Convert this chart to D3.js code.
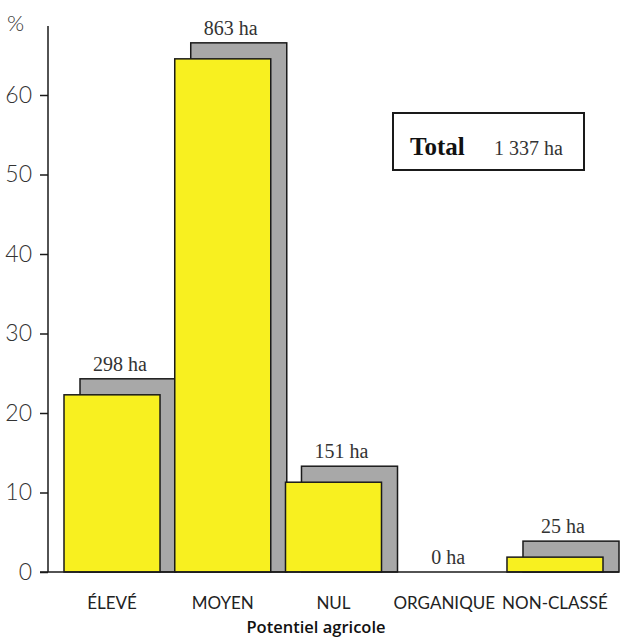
<!DOCTYPE html>
<html>
<head>
<meta charset="utf-8">
<script src="https://cdn.jsdelivr.net/npm/d3@7"></script>
<style>
  html, body { margin: 0; padding: 0; background: #fff; }
  svg { display: block; }
</style>
</head>
<body>
<script>
// Surface per agricultural potential class (ha)
const categories = ["ÉLEVÉ", "MOYEN", "NUL", "ORGANIQUE", "NON-CLASSÉ"];
const areaHa = [298, 863, 151, 0, 25];
const totalHa = 1337;
const totalLabel = "1 337 ha";
const yTicks = [0, 10, 20, 30, 40, 50, 60];

const pct = areaHa.map(v => v / totalHa * 100);

const W = 631, H = 640;
const svg = d3.select("body").append("svg")
  .attr("width", W).attr("height", H);

const x = d3.scaleBand()
  .domain(categories)
  .range([64, 603])
  .paddingInner(0.133)
  .paddingOuter(0);

const y = d3.scaleLinear()
  .domain([0, 60])
  .range([572, 95]);

const shadowDx = 16, shadowDy = 16;
const yellow = "#f8f020", grey = "#a8a8a8", ink = "#1a1a1a";
const sans = "Lato, 'Open Sans', sans-serif";
const serif = "'Liberation Serif', 'DejaVu Serif', serif";

const shown = categories.filter((c, i) => pct[i] > 0);
const val = c => pct[categories.indexOf(c)];

// shadow blocks
svg.append("g").selectAll("rect")
  .data(shown)
  .join("rect")
  .attr("x", c => x(c) + shadowDx)
  .attr("y", c => y(val(c)) - shadowDy)
  .attr("width", x.bandwidth())
  .attr("height", c => y(0) - y(val(c)) + shadowDy)
  .attr("fill", grey)
  .attr("stroke", ink)
  .attr("stroke-width", 1.5);

// yellow bars
svg.append("g").selectAll("rect")
  .data(shown)
  .join("rect")
  .attr("x", c => x(c))
  .attr("y", c => y(val(c)))
  .attr("width", x.bandwidth())
  .attr("height", c => y(0) - y(val(c)))
  .attr("fill", yellow)
  .attr("stroke", ink)
  .attr("stroke-width", 1.5);

// value labels above each block
svg.append("g").selectAll("text")
  .data(categories)
  .join("text")
  .attr("x", (c, i) => x(c) + x.bandwidth() / 2 + (pct[i] > 0 ? shadowDx / 2 : 4))
  .attr("y", (c, i) => y(pct[i]) - (pct[i] > 0 ? shadowDy : 0) - 8)
  .attr("text-anchor", "middle")
  .style("font-family", serif)
  .style("font-size", "20px")
  .attr("fill", "#333")
  .text((c, i) => areaHa[i] + " ha");

// baseline
svg.append("line")
  .attr("x1", 40).attr("x2", x(categories[categories.length - 1]) + x.bandwidth() + shadowDx)
  .attr("y1", y(0)).attr("y2", y(0))
  .attr("stroke", ink).attr("stroke-width", 1.5);

// y axis
const yAxis = d3.axisLeft(y).tickValues(yTicks).tickSize(8).tickPadding(8).tickFormat(d3.format("d"));
const ga = svg.append("g").attr("transform", "translate(48,0)").call(yAxis);
ga.select(".domain").remove();
ga.selectAll(".tick line").attr("stroke", ink).attr("stroke-width", 1.5);
ga.selectAll(".tick text")
  .style("font-family", sans)
  .style("font-weight", "300")
  .style("font-size", "23px")
  .attr("fill", "#333");
svg.append("line")
  .attr("x1", 48).attr("x2", 48)
  .attr("y1", 26).attr("y2", y(0))
  .attr("stroke", ink).attr("stroke-width", 1.5);

svg.append("text")
  .attr("x", 7).attr("y", 31)
  .style("font-family", sans)
  .style("font-weight", "300")
  .style("font-size", "22px")
  .attr("fill", "#333")
  .text("%");

// category labels
svg.append("g").selectAll("text")
  .data(categories)
  .join("text")
  .attr("x", c => x(c) + x.bandwidth() / 2)
  .attr("y", 609)
  .attr("text-anchor", "middle")
  .style("font-family", sans)
  .style("font-size", "17px")
  .attr("fill", "#222")
  .text(c => c);

svg.append("text")
  .attr("x", 316).attr("y", 633)
  .attr("text-anchor", "middle")
  .style("font-family", "'Open Sans', Lato, sans-serif")
  .style("font-weight", "600")
  .style("font-size", "16.5px")
  .attr("fill", "#111")
  .text("Potentiel agricole");

// total box
const box = svg.append("g");
box.append("rect")
  .attr("x", 393).attr("y", 113)
  .attr("width", 191).attr("height", 57)
  .attr("fill", "#fff")
  .attr("stroke", ink).attr("stroke-width", 2);
box.append("text")
  .attr("x", 410).attr("y", 155)
  .style("font-family", serif)
  .style("font-weight", "700")
  .style("font-size", "25px")
  .attr("fill", "#111")
  .text("Total");
box.append("text")
  .attr("x", 494).attr("y", 155)
  .style("font-family", serif)
  .style("font-size", "20px")
  .attr("fill", "#333")
  .text(totalLabel);
</script>
</body>
</html>
